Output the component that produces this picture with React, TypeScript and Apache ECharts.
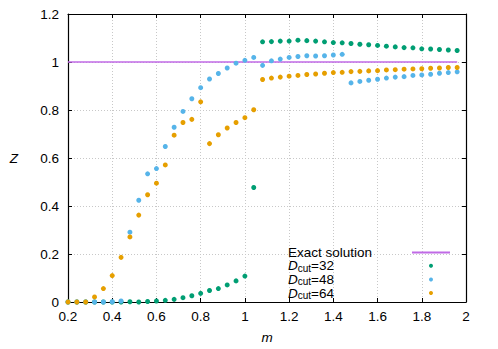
import React, { useEffect, useRef } from "react";
import * as echarts from "echarts";

const mValues: number[] = [
  0.2, 0.24, 0.28, 0.32, 0.36, 0.4, 0.44, 0.48, 0.52, 0.56, 0.6, 0.64, 0.68, 0.72, 0.76, 0.8, 0.84,
  0.88, 0.92, 0.96, 1.0, 1.04, 1.08, 1.12, 1.16, 1.2, 1.24, 1.28, 1.32, 1.36, 1.4, 1.44, 1.48,
  1.52, 1.56, 1.6, 1.64, 1.68, 1.72, 1.76, 1.8, 1.84, 1.88, 1.92, 1.96,
];

const z32: number[] = [
  0, 0, 0, 0, 0, 0, 0, 0.001, 0, 0.002, 0.004, 0.007, 0.011, 0.018, 0.026, 0.036, 0.048, 0.056,
  0.071, 0.088, 0.108, 0.477, 1.084, 1.085, 1.087, 1.087, 1.091, 1.089, 1.087, 1.084, 1.081, 1.08,
  1.077, 1.074, 1.072, 1.069, 1.066, 1.063, 1.06, 1.059, 1.055, 1.054, 1.052, 1.05, 1.048,
];

const z48: number[] = [
  0, 0, 0, 0, 0, 0.001, 0.004, 0.291, 0.424, 0.534, 0.556, 0.648, 0.728, 0.794, 0.847, 0.893,
  0.929, 0.952, 0.975, 0.995, 1.007, 1.019, 0.986, 1.005, 1.012, 1.019, 1.023, 1.026, 1.025, 1.026,
  1.029, 1.032, 0.913, 0.919, 0.924, 0.928, 0.933, 0.937, 0.939, 0.944, 0.946, 0.949, 0.953, 0.956,
  0.959,
];

const z64: number[] = [
  0, 0, 0, 0.021, 0.056, 0.11, 0.186, 0.271, 0.362, 0.447, 0.495, 0.571, 0.695, 0.748, 0.761,
  0.834, 0.66, 0.697, 0.725, 0.748, 0.768, 0.801, 0.927, 0.933, 0.937, 0.941, 0.944, 0.948, 0.95,
  0.953, 0.956, 0.957, 0.96, 0.961, 0.963, 0.964, 0.967, 0.968, 0.97, 0.971, 0.972, 0.974, 0.975,
  0.977, 0.977,
];

const exactM: number[] = [0.2, 1.96];
const exactZ: number[] = [1, 1];

const seriesNames = ["Exact solution", "D32", "D48", "D64"];
const colors = ["#c06ae6", "#009e73", "#56b4e9", "#e69f00"];

const fmt = (v: number) => String(Math.round(v * 10) / 10);

export default function App() {
  const ref = useRef<HTMLDivElement>(null);
  useEffect(() => {
    if (!ref.current) return;
    const chart = echarts.init(ref.current, null, { renderer: "svg" });
    const font = "Liberation Sans, Arial, sans-serif";
    const fs = 13.5;
    const pair = (ys: number[]) => mValues.map((m, i) => [m, ys[i]]);
    const gridLine = { show: true, lineStyle: { color: "#c8c8c8", type: [1, 2] as any, width: 1 } };
    const frame = { show: true, onZero: false, lineStyle: { color: "#000", width: 1.2 } };
    const tick = { show: true, inside: true, length: 4, lineStyle: { color: "#000", width: 1 } };
    chart.setOption({
      animation: false,
      backgroundColor: "#fff",
      grid: { left: 68, right: 32, top: 14, bottom: 45 },
      legend: {
        orient: "vertical",
        left: 288,
        top: 245.5,
        align: "right",
        itemWidth: 38,
        itemHeight: 4,
        itemGap: -1.3,
        padding: 0,
        data: [
          { name: seriesNames[0], itemStyle: { opacity: 0 } },
          { name: seriesNames[1] },
          { name: seriesNames[2] },
          { name: seriesNames[3] },
        ],
        formatter: (name: string) =>
          name.startsWith("D") ? `{i|D}{s|cut}{n|=${name.slice(1)}}` : `{n|${name}}`,
        textStyle: {
          width: 119,
          fontFamily: font,
          fontSize: fs,
          color: "#000",
          lineHeight: 14,
          rich: {
            n: { fontFamily: font, fontSize: fs, color: "#000", lineHeight: 14, align: "left" },
            i: { fontFamily: font, fontSize: fs, fontStyle: "italic", color: "#000", lineHeight: 14, align: "left" },
            s: { fontFamily: font, fontSize: 10, color: "#000", padding: [5, 0, 0, 0], lineHeight: 9, align: "left" },
          },
        },
      },
      xAxis: [
        {
          type: "value",
          min: 0.2,
          max: 2,
          interval: 0.2,
          position: "bottom",
          name: "m",
          nameLocation: "middle",
          nameGap: 28,
          nameTextStyle: { fontFamily: font, fontSize: fs, fontStyle: "italic", color: "#000" },
          axisLine: frame,
          axisTick: tick,
          splitLine: gridLine,
          axisLabel: { formatter: fmt, fontFamily: font, fontSize: fs, color: "#000", margin: 7 },
        },
        {
          type: "value",
          min: 0.2,
          max: 2,
          interval: 0.2,
          position: "top",
          axisLine: frame,
          axisTick: tick,
          splitLine: { show: false },
          axisLabel: { show: false },
        },
      ],
      yAxis: [
        {
          type: "value",
          min: 0,
          max: 1.2,
          interval: 0.2,
          position: "left",
          name: "Z",
          nameLocation: "middle",
          nameRotate: 0,
          nameGap: 50,
          nameTextStyle: { fontFamily: font, fontSize: fs, fontStyle: "italic", color: "#000" },
          axisLine: frame,
          axisTick: tick,
          splitLine: gridLine,
          axisLabel: { formatter: fmt, fontFamily: font, fontSize: fs, color: "#000", margin: 9 },
        },
        {
          type: "value",
          min: 0,
          max: 1.2,
          interval: 0.2,
          position: "right",
          axisLine: frame,
          axisTick: tick,
          splitLine: { show: false },
          axisLabel: { show: false },
        },
      ],
      series: [
        {
          name: seriesNames[0],
          type: "line",
          symbol: "none",
          data: exactM.map((m, i) => [m, exactZ[i]]),
          lineStyle: { color: colors[0], width: 1.3 },
          itemStyle: { color: colors[0] },
          z: 2,
        },
        {
          name: seriesNames[1],
          type: "scatter",
          symbolSize: 5,
          data: pair(z32),
          itemStyle: { color: colors[1], opacity: 1 },
          z: 3,
        },
        {
          name: seriesNames[2],
          type: "scatter",
          symbolSize: 5,
          data: pair(z48),
          itemStyle: { color: colors[2], opacity: 1 },
          z: 4,
        },
        {
          name: seriesNames[3],
          type: "scatter",
          symbolSize: 5,
          data: pair(z64),
          itemStyle: { color: colors[3], opacity: 1 },
          z: 5,
        },
      ],
    });
    return () => chart.dispose();
  }, []);
  return <div ref={ref} style={{ width: 498, height: 349, position: "absolute", left: 0, top: 0 }} />;
}
